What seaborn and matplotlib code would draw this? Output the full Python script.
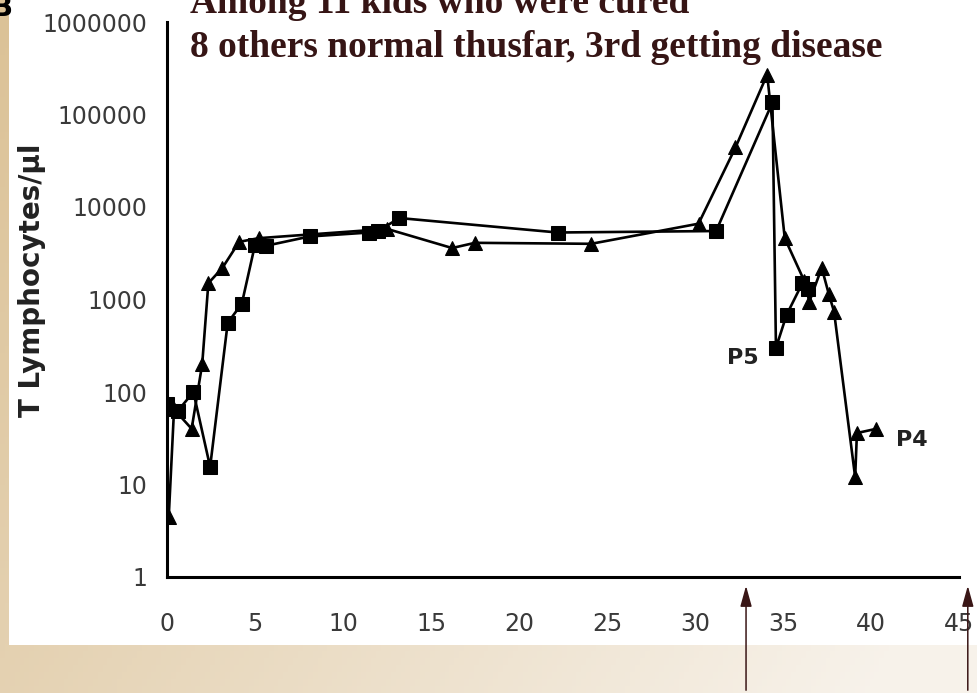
"""
T lymphocyte counts after gene therapy - recreated slide figure
"""

import numpy as np
import matplotlib
matplotlib.use("Agg")
import matplotlib.pyplot as plt
import matplotlib.transforms as mtransforms
from matplotlib.patches import Rectangle
import seaborn as sns

# ---- data (months, cells/ul) ----
p4_days = [0.1, 0.4, 1.4, 2.0, 2.35, 3.15, 4.1, 5.2, 12.5, 16.2, 17.5, 24.1,
           30.2, 32.3, 34.1, 35.1, 36.2, 36.5, 37.2, 37.6, 37.9, 39.1, 39.2, 40.3]
p4_cells = [4.5, 65, 40, 200, 1500, 2200, 4200, 4600, 5800, 3600, 4100, 4000,
            6600, 44000, 270000, 4600, 1600, 950, 2200, 1150, 740, 12, 36, 40]

p5_days = [0.0, 0.6, 1.5, 2.45, 3.45, 4.25, 5.0, 5.6, 8.1, 11.5, 12.0, 13.2,
           22.2, 31.2, 34.4, 34.6, 35.2, 36.1, 36.4]
p5_cells = [75, 62, 100, 15.5, 560, 900, 3900, 3800, 4800, 5300, 5500, 7600,
            5300, 5500, 135000, 300, 680, 1500, 1300]

y_ticks = [1, 10, 100, 1000, 10000, 100000, 1000000]
y_ticklabels = ["1", "10", "100", "1000", "10000", "100000", "1000000"]
x_ticks = [0, 5, 10, 15, 20, 25, 30, 35, 40, 45]
arrow_days = [32.9, 45.5]

title_lines = ["Among 11 kids who were cured",
               "8 others normal thusfar, 3rd getting disease"]

sns.set_style("white")
plt.rcParams["font.family"] = ["DejaVu Sans"]

W, H = 977, 693
fig = plt.figure(figsize=(W / 100, H / 100), dpi=100)

# slide background: beige gradient with white panel for the chart
bg = fig.add_axes([0, 0, 1, 1], zorder=-10)
gx = np.linspace(0, 1, 200)[None, :, None]
gy = np.linspace(0, 1, 100)[:, None, None]   # 0 = top row (origin upper)
c0 = np.array([0.86, 0.76, 0.59])
c1 = np.array([0.97, 0.95, 0.92])
t = np.clip(gx * 0.75 + gy * 0.33, 0, 1)
grad = c0 + (c1 - c0) * t
bg.imshow(grad, extent=[0, 1, 0, 1], aspect="auto", origin="upper")
bg.add_patch(Rectangle((9 / W, 1 - 645 / H), 1, 645 / H, color="white", lw=0))
bg.set_xlim(0, 1)
bg.set_ylim(0, 1)
bg.axis("off")

ax = fig.add_axes([167 / W, 1 - 577 / H, (959 - 167) / W, (577 - 22) / H])
ax.patch.set_alpha(0)

sns.lineplot(x=p5_days, y=p5_cells, ax=ax, color="black", linewidth=1.9,
             marker="s", markersize=10.5, markeredgecolor="black",
             sort=False, estimator=None, zorder=3)
sns.lineplot(x=p4_days, y=p4_cells, ax=ax, color="black", linewidth=1.9,
             marker="^", markersize=10.5, markeredgecolor="black",
             sort=False, estimator=None, zorder=3)

ax.set_yscale("log")
ax.set_ylim(1, 1000000)
ax.set_xlim(0, 45)
ax.set_yticks(y_ticks)
ax.set_yticklabels(y_ticklabels)
ax.minorticks_off()
ax.set_xticks(x_ticks)
ax.set_xticklabels([str(v) for v in x_ticks])

for side in ["top", "right"]:
    ax.spines[side].set_visible(False)
for side in ["left", "bottom"]:
    ax.spines[side].set_linewidth(2.2)
    ax.spines[side].set_color("black")
    ax.spines[side].set_clip_on(False)

ax.tick_params(axis="both", direction="out", length=5, width=2.2,
               colors="black", labelcolor="#3a3a3a", labelsize=17)
ax.tick_params(axis="y", pad=9)
ax.tick_params(axis="x", pad=20)

ax.set_ylabel("T Lymphocytes/\u00b5l", fontsize=20, fontweight="bold",
              labelpad=2, color="#222222")
ax.yaxis.set_label_coords(-0.153, 0.535)

ax.text(33.6, 235, "P5", fontsize=16, fontweight="bold", color="#222222",
        ha="right", va="center")
ax.text(41.4, 30, "P4", fontsize=16, fontweight="bold", color="#222222",
        ha="left", va="center")

# arrows below the x axis
trans = mtransforms.blended_transform_factory(ax.transData, fig.transFigure)
for d in arrow_days:
    ax.annotate("", xy=(d, 1 - 583 / H), xytext=(d, 0), xycoords=trans,
                textcoords=trans, annotation_clip=False,
                arrowprops=dict(arrowstyle="-|>,head_width=0.25,head_length=0.9",
                                color="#3a1616", lw=1.1, mutation_scale=14))

# remnant of the panel letter at the top-left corner
fig.text(-9 / W, 1 - 16 / H, "B", fontsize=20, fontweight="bold", color="black",
         ha="left", va="baseline")

# slide title
title_kw = dict(fontsize=27, fontweight="bold", color="#361515",
                family="Liberation Serif", ha="left", va="baseline")
fig.text(190 / W, 1 - 13 / H, title_lines[0], **title_kw)
fig.text(190 / W, 1 - 57 / H, title_lines[1], **title_kw)

fig.savefig("out.png", dpi=100)
